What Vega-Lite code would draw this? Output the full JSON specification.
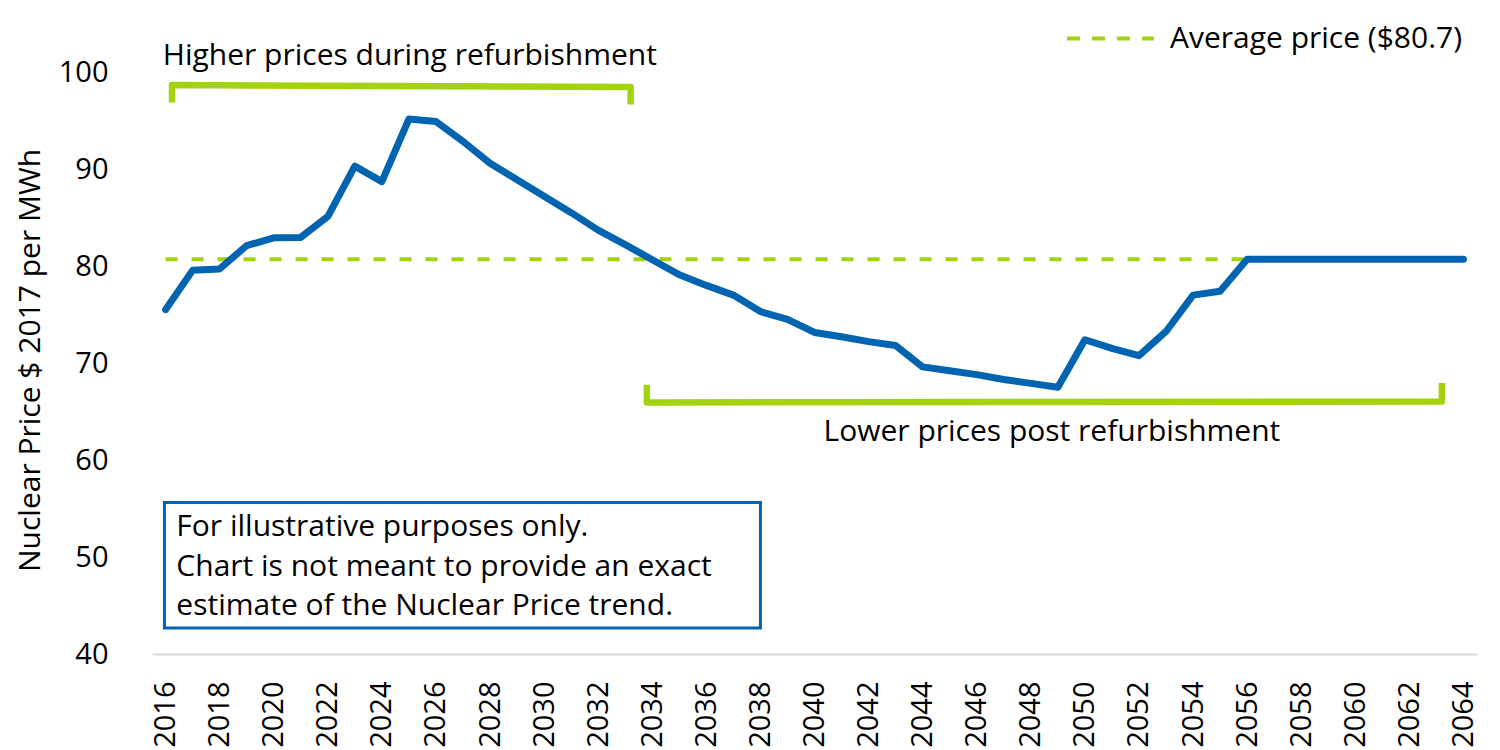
{
  "$schema": "https://vega.github.io/schema/vega-lite/v6.json",
  "description": "Nuclear price trend 2016-2064 with refurbishment annotations.",
  "autosize": {"type": "none"},
  "padding": {"left": 152, "top": 72, "right": 23, "bottom": 96},
  "width": 1325,
  "height": 582,
  "config": {
    "view": {"stroke": null},
    "font": "Open Sans",
    "text": {"font": "Open Sans", "fontSize": 30, "color": "#000000"}
  },
  "datasets": {
    "price": [
      {"year": 2016, "price": 75.5},
      {"year": 2017, "price": 79.55},
      {"year": 2018, "price": 79.7},
      {"year": 2019, "price": 82.1},
      {"year": 2020, "price": 82.9},
      {"year": 2021, "price": 82.95},
      {"year": 2022, "price": 85.1},
      {"year": 2023, "price": 90.3},
      {"year": 2024, "price": 88.7},
      {"year": 2025, "price": 95.15},
      {"year": 2026, "price": 94.9},
      {"year": 2027, "price": 92.85},
      {"year": 2028, "price": 90.6},
      {"year": 2029, "price": 88.9},
      {"year": 2030, "price": 87.2},
      {"year": 2031, "price": 85.5},
      {"year": 2032, "price": 83.7},
      {"year": 2033, "price": 82.2},
      {"year": 2034, "price": 80.65},
      {"year": 2035, "price": 79.1},
      {"year": 2036, "price": 78.0},
      {"year": 2037, "price": 77.0},
      {"year": 2038, "price": 75.3},
      {"year": 2039, "price": 74.5},
      {"year": 2040, "price": 73.15},
      {"year": 2041, "price": 72.7},
      {"year": 2042, "price": 72.2},
      {"year": 2043, "price": 71.8},
      {"year": 2044, "price": 69.6},
      {"year": 2045, "price": 69.2},
      {"year": 2046, "price": 68.8},
      {"year": 2047, "price": 68.3},
      {"year": 2048, "price": 67.9},
      {"year": 2049, "price": 67.5},
      {"year": 2050, "price": 72.4},
      {"year": 2051, "price": 71.5},
      {"year": 2052, "price": 70.75},
      {"year": 2053, "price": 73.25},
      {"year": 2054, "price": 77.0},
      {"year": 2055, "price": 77.4},
      {"year": 2056, "price": 80.7},
      {"year": 2057, "price": 80.7},
      {"year": 2058, "price": 80.7},
      {"year": 2059, "price": 80.7},
      {"year": 2060, "price": 80.7},
      {"year": 2061, "price": 80.7},
      {"year": 2062, "price": 80.7},
      {"year": 2063, "price": 80.7},
      {"year": 2064, "price": 80.7}
    ],
    "average": [
      {"series": "Average price ($80.7)", "start": 2016, "end": 2064, "price": 80.7}
    ],
    "brackets": [
      {"bracket": "higher", "step": 1, "x": 2016.24, "y": 96.85},
      {"bracket": "higher", "step": 2, "x": 2016.24, "y": 98.65},
      {"bracket": "higher", "step": 3, "x": 2033.2, "y": 98.45},
      {"bracket": "higher", "step": 4, "x": 2033.2, "y": 96.65},
      {"bracket": "lower", "step": 1, "x": 2033.8, "y": 67.76},
      {"bracket": "lower", "step": 2, "x": 2033.8, "y": 65.94},
      {"bracket": "lower", "step": 3, "x": 2063.2, "y": 66.02},
      {"bracket": "lower", "step": 4, "x": 2063.2, "y": 67.94}
    ]
  },
  "encoding": {
    "x": {
      "type": "quantitative",
      "scale": {"domain": [2015.5, 2064.5], "nice": false, "zero": false},
      "axis": {
        "title": null,
        "values": [2016, 2018, 2020, 2022, 2024, 2026, 2028, 2030, 2032, 2034, 2036, 2038, 2040, 2042, 2044, 2046, 2048, 2050, 2052, 2054, 2056, 2058, 2060, 2062, 2064],
        "format": "d",
        "labelAngle": -90,
        "labelPadding": 27,
        "labelFontSize": 29,
        "labelFont": "Open Sans",
        "labelColor": "#000000",
        "ticks": false,
        "grid": false,
        "domainColor": "#D9D9D9",
        "domainWidth": 2
      }
    },
    "y": {
      "type": "quantitative",
      "scale": {"domain": [40, 100], "nice": false, "zero": false},
      "axis": {
        "title": "Nuclear Price $ 2017 per MWh",
        "titleFontSize": 30,
        "titleFont": "Open Sans",
        "titleFontWeight": "normal",
        "titleColor": "#000000",
        "titleX": -122,
        "titleY": 288,
        "titleAlign": "center",
        "titleBaseline": "middle",
        "values": [40, 50, 60, 70, 80, 90, 100],
        "labelPadding": 44,
        "labelFontSize": 29,
        "labelFont": "Open Sans",
        "labelColor": "#000000",
        "ticks": false,
        "grid": false,
        "domain": false
      }
    }
  },
  "layer": [
    {
      "data": {"name": "average"},
      "mark": {"type": "rule", "strokeWidth": 4, "strokeDash": [12, 14]},
      "encoding": {
        "x": {"field": "start"},
        "x2": {"field": "end"},
        "y": {"field": "price"},
        "color": {
          "field": "series",
          "type": "nominal",
          "scale": {"range": ["#A3D20F"]},
          "legend": {
            "title": null,
            "orient": "none",
            "legendX": 913,
            "legendY": -79,
            "padding": 0,
            "symbolType": "stroke",
            "symbolSize": 7569,
            "symbolStrokeWidth": 4,
            "symbolDash": [13, 12],
            "symbolStrokeColor": "#A3D20F",
            "labelFont": "Open Sans",
            "labelFontSize": 30,
            "labelColor": "#000000",
            "labelOffset": 14,
            "labelLimit": 400
          }
        }
      }
    },
    {
      "data": {"name": "price"},
      "mark": {"type": "line", "color": "#0064B0", "strokeWidth": 7, "strokeCap": "round", "strokeJoin": "round"},
      "encoding": {
        "x": {"field": "year"},
        "y": {"field": "price"}
      }
    },
    {
      "data": {"name": "brackets"},
      "mark": {"type": "line", "color": "#A3D20F", "strokeWidth": 6.5, "strokeJoin": "round"},
      "encoding": {
        "x": {"field": "x"},
        "y": {"field": "y"},
        "detail": {"field": "bracket"},
        "order": {"field": "step"}
      }
    },
    {
      "data": {"values": [
        {"label": "Higher prices during refurbishment", "x": 2015.9, "y": 100.75}
      ]},
      "mark": {"type": "text", "align": "left", "baseline": "alphabetic"},
      "encoding": {
        "x": {"field": "x"},
        "y": {"field": "y"},
        "text": {"field": "label"}
      }
    },
    {
      "data": {"values": [
        {"label": "Lower prices post refurbishment", "x": 2048.78, "y": 61.92}
      ]},
      "mark": {"type": "text", "align": "center", "baseline": "alphabetic"},
      "encoding": {
        "x": {"field": "x"},
        "y": {"field": "y"},
        "text": {"field": "label"}
      }
    },
    {
      "data": {"values": [
        {"x1": 2015.96, "x2": 2038.0, "y1": 55.63, "y2": 42.68}
      ]},
      "mark": {"type": "rect", "fill": "#FFFFFF", "stroke": "#0064B0", "strokeWidth": 3},
      "encoding": {
        "x": {"field": "x1"},
        "x2": {"field": "x2"},
        "y": {"field": "y1"},
        "y2": {"field": "y2"}
      }
    },
    {
      "data": {"values": [
        {"note": ["For illustrative purposes only.", "Chart is not meant to provide an exact", "estimate of the Nuclear Price trend."], "x": 2016.4, "y": 52.12}
      ]},
      "mark": {"type": "text", "align": "left", "baseline": "alphabetic", "lineHeight": 39.5},
      "encoding": {
        "x": {"field": "x"},
        "y": {"field": "y"},
        "text": {"field": "note"}
      }
    }
  ]
}
